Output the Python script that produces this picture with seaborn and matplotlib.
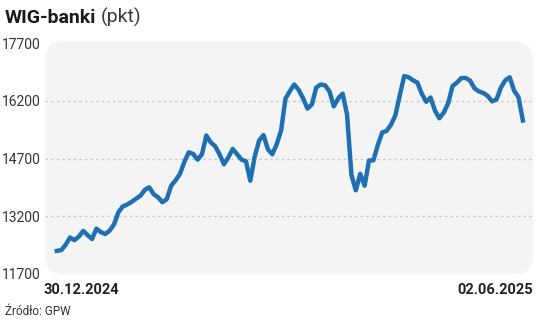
import matplotlib
matplotlib.use("Agg")
import matplotlib.pyplot as plt
from matplotlib.patches import FancyBboxPatch
import seaborn as sns
import pandas as pd
import numpy as np

# ---- data ----
values = [
    12290, 12310, 12450, 12640, 12570, 12665, 12810, 12700, 12600, 12870,
    12780, 12730, 12820, 12980, 13300, 13450, 13500, 13570, 13650, 13730,
    13880, 13950, 13770, 13690, 13560, 13640, 13990, 14130, 14300, 14610,
    14860, 14820, 14670, 14810, 15300, 15120, 15020, 14810, 14550, 14730,
    14950, 14810, 14670, 14630, 14120, 14750, 15170, 15310, 14940, 14810,
    15070, 15430, 16260, 16460, 16630, 16490, 16270, 16000, 16110, 16550,
    16630, 16610, 16450, 16060, 16270, 16390, 15850, 14270, 13870, 14300,
    13990, 14650, 14650, 15050, 15380, 15420, 15580, 15830, 16350, 16850,
    16820, 16740, 16680, 16390, 16180, 16290, 15950, 15750, 15900, 16140,
    16590, 16680, 16800, 16800, 16730, 16530, 16450, 16410, 16330, 16190,
    16240, 16550, 16740, 16820, 16470, 16300, 15690,
]
y_ticks = [11700, 13200, 14700, 16200, 17700]
grid_levels = [13200, 14700, 16200]
date_labels = ["30.12.2024", "02.06.2025"]
title_main = "WIG-banki"
title_unit = "(pkt)"
source = "Źródło: GPW"

df = pd.DataFrame({"i": np.arange(len(values)), "v": values})

W, H = 536, 321
fig = plt.figure(figsize=(W / 100, H / 100), dpi=100)
fig.patch.set_facecolor("white")
plt.rcParams["font.family"] = ["Roboto", "DejaVu Sans"]

# axes placement in pixels
ax_l, ax_r, ax_t, ax_b = 45, 533, 43.5, 273.5
ax = fig.add_axes([ax_l / W, 1 - ax_b / H, (ax_r - ax_l) / W, (ax_b - ax_t) / H])
ax.set_facecolor("none")

# rounded panel
panel = FancyBboxPatch((ax_l / W, 1 - 274.5 / H), (ax_r - ax_l) / W, (274.5 - 41.5) / H,
                       boxstyle="round,pad=0,rounding_size=0.035",
                       mutation_aspect=W / H, transform=fig.transFigure,
                       facecolor="#f4f4f4", edgecolor="none", zorder=0, clip_on=False)
ax.add_patch(panel)

for g in grid_levels:
    ax.axhline(g, color="#c8c8c8", lw=0.9, ls=(0, (2, 2.5)), zorder=1)

sns.lineplot(data=df, x="i", y="v", ax=ax, color="#1f70b3", lw=3.2, zorder=3)

n = len(values)
ax.set_xlim(-2.7, n - 1 + 2.3)
ax.set_ylim(y_ticks[0], y_ticks[-1])
for s in ax.spines.values():
    s.set_visible(False)
ax.set_xticks([])
ax.set_xlabel("")
ax.set_ylabel("")
ax.set_yticks(y_ticks)
ax.set_yticklabels([str(t) for t in y_ticks])
ax.tick_params(axis="y", length=0, pad=3, labelsize=10, labelcolor="#333333")

# date labels
ax.text(-0.004, -0.04, date_labels[0], transform=ax.transAxes, ha="left", va="top",
        fontsize=10.5, fontweight="bold", color="#222222")
ax.text(1.0, -0.04, date_labels[1], transform=ax.transAxes, ha="right", va="top",
        fontsize=10.5, fontweight="bold", color="#222222")

# title
t1 = fig.text(5 / W, 1 - 23 / H, title_main, ha="left", va="baseline",
              fontsize=14, fontweight="bold", color="#1a1a1a")
fig.canvas.draw()
bb = t1.get_window_extent()
fig.text((bb.x1 + 4) / W, 1 - 23 / H, title_unit, ha="left", va="baseline",
         fontsize=14, fontweight="normal", color="#3a3a3a")

fig.text(5 / W, 1 - 315 / H, source, ha="left", va="baseline",
         fontsize=8.5, color="#333333")

fig.savefig("out.png", dpi=100, facecolor="white")
